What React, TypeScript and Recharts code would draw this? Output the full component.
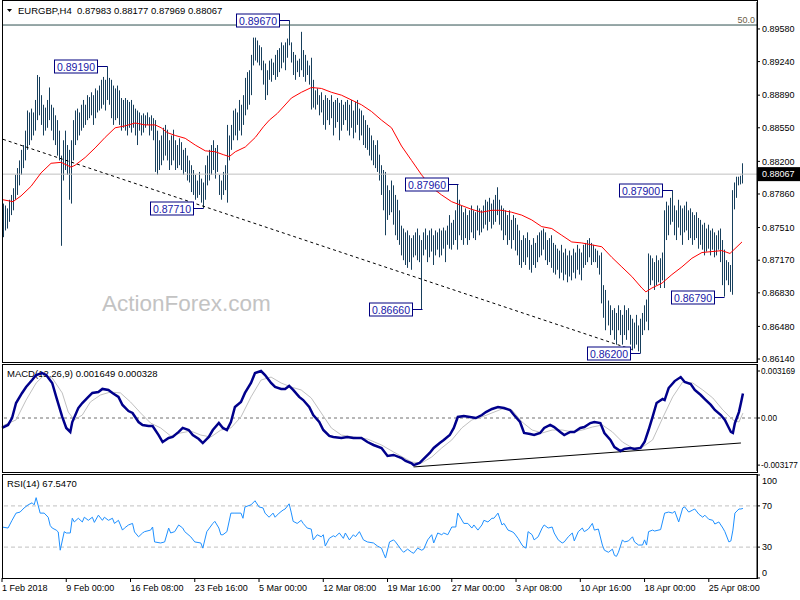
import React from "react";
import { ComposedChart, Bar, Line, XAxis, YAxis, ReferenceLine, ReferenceDot } from "recharts";

const FONT = "'Liberation Sans', Arial, sans-serif";
const BAR_COLOR = "#173f5c";

// H4 bars, prices in pips (x 1e-4)
const highs = [8776,8774,8771,8780,8785,8792,8806,8813,8821,8832,
8837,8852,8873,8871,8875,8871,8884,8910,8908,8889,
8879,8876,8884,8897,8879,8876,8868,8863,8852,8826,
8842,8852,8837,8832,8842,8863,
8873,8875,8871,8879,8884,8879,8889,8887,8892,8889,
8896,8894,8899,8905,8908,8905,8919,8907,8905,8899,
8896,8899,8894,8886,8884,8886,8884,8882,8884,8879,
8875,8873,8871,8868,8870,8868,8871,8866,8868,8865,
8863,8852,8842,8847,8855,8858,8853,8842,8847,8853,
8842,8837,8844,8840,8832,8834,8826,8821,8816,8811,
8806,8800,8809,8802,8798,
8816,8826,8832,8837,8842,8834,8837,8806,8800,8809,
8816,8858,8847,8858,8873,8875,8871,8884,8879,8889,
8907,8913,8915,8931,8949,8949,8946,8941,8939,8925,
8922,8915,8925,8927,8923,8931,8936,8938,8944,8941,
8944,8948,8967,8944,8934,
8931,8925,8927,8955,8936,8931,8925,8920,8928,8905,
8894,8896,8889,8892,8884,8889,8886,8884,8889,8882,
8884,8886,8881,8884,8879,
8882,8884,8879,8884,8873,8882,8884,8875,8873,8868,
8863,8858,8855,8847,8842,8837,8842,8827,8816,8811,
8809,8795,8790,8800,8795,
8785,8780,8769,8753,8750,8746,8748,8743,8740,8743,
8746,8750,8743,8738,8746,8750,8743,8748,8750,8743,
8748,8746,8750,8748,8751,8748,8753,8764,8756,8759,
8769,8796,8780,8774,8767,8771,8764,8769,8774,8769,
8767,8774,8771,8769,8774,8780,8778,8782,8776,8780,
8785,8793,8780,8774,8771,8769,8764,8769,8759,8764,
8761,8754,8748,8738,8743,8740,8746,8738,8733,8740,
8735,8743,8746,8748,8750,8746,8738,8740,8743,8735,
8733,8729,8727,8733,8725,8729,8722,8727,8722,8729,
8725,8733,8729,8725,8733,8735,8738,8740,8735,8733,
8729,8727,8722,8725,8691,
8686,8675,8670,8665,8667,8662,8670,8665,8660,8670,
8665,8667,8660,8656,8652,8660,8649,8656,8662,8670,
8676,8724,8722,8719,8715,8722,8717,8719,8725,8769,
8778,8774,8782,8790,8774,8769,8780,8774,8771,8774,
8778,8769,8771,8767,8764,8767,8761,8759,8754,8756,
8750,8754,8748,8750,8746,8743,8748,8750,8738,8728,
8717,8715,8712,8790,8798,8804,8804,8805,8818];

const lows = [8741,8748,8750,8757,8764,8769,8780,8785,8795,8806,
8813,8821,8832,8837,8842,8847,8852,8863,8868,8858,
8847,8852,8855,8863,8852,8842,8837,8826,8821,8732,
8800,8811,8806,8780,8776,8821,
8837,8842,8847,8852,8855,8858,8863,8865,8868,8858,
8865,8871,8873,8875,8879,8873,8884,8879,8865,8858,
8863,8865,8858,8852,8855,8852,8847,8855,8850,8855,
8847,8837,8852,8847,8850,8855,8858,8847,8852,8842,
8809,8806,8811,8816,8821,8826,8821,8811,8816,8821,
8811,8813,8816,8811,8806,8809,8800,8798,8788,8785,
8780,8782,8785,8777,8771,
8780,8795,8800,8806,8811,8802,8809,8785,8780,8785,
8790,8777,8821,8832,8842,8847,8842,8852,8847,8858,
8868,8874,8879,8889,8920,8925,8923,8920,8915,8900,
8884,8889,8905,8903,8910,8905,8908,8913,8917,8923,
8915,8928,8941,8923,8910,
8905,8913,8908,8915,8908,8903,8910,8900,8874,8876,
8874,8879,8868,8871,8858,8853,8863,8858,8865,8847,
8855,8861,8842,8852,8858,
8863,8852,8847,8855,8844,8850,8858,8842,8847,8837,
8834,8832,8826,8821,8816,8813,8809,8800,8785,8769,
8743,8759,8764,8767,8754,
8743,8738,8733,8722,8717,8712,8709,8715,8707,8720,
8722,8717,8715,8666,8722,8728,8715,8720,8726,8712,
8722,8728,8720,8722,8729,8715,8733,8729,8728,8733,
8738,8728,8743,8738,8733,8740,8733,8738,8746,8740,
8738,8748,8743,8746,8750,8754,8748,8757,8750,8754,
8757,8764,8754,8748,8738,8743,8733,8738,8729,8738,
8727,8722,8712,8709,8715,8712,8720,8707,8704,8712,
8709,8715,8720,8722,8728,8717,8712,8715,8709,8704,
8702,8707,8698,8704,8696,8702,8694,8700,8696,8704,
8698,8707,8702,8696,8709,8712,8715,8720,8712,8715,
8715,8709,8702,8672,8657,
8644,8649,8639,8644,8634,8629,8644,8639,8629,8639,
8634,8644,8629,8623,8625,8629,8622,8620,8639,8644,
8653,8644,8691,8696,8686,8691,8694,8688,8696,8688,
8738,8743,8754,8757,8743,8738,8751,8743,8733,8746,
8748,8738,8740,8733,8738,8740,8729,8733,8728,8722,
8726,8729,8722,8728,8720,8722,8728,8715,8691,8679,
8696,8691,8684,8681,8770,8782,8795,8796,8797];

// moving average [bar, pips]
const maPoints = [[0,8780],[5,8778],[9,8784],[14,8794],[19,8808],[24,8818],[29,8819],[34,8814],[36,8816],[41,8824],[46,8834],[51,8845],[56,8855],[61,8857],[66,8860],[71,8858],[76,8858],[79,8855],[82,8850],[86,8847],[91,8844],[96,8837],[101,8831],[106,8830],[110,8827],[113,8825],[116,8830],[121,8835],[126,8845],[130,8856],[133,8863],[137,8870],[144,8886],[149,8892],[154,8897],[159,8896],[164,8892],[169,8889],[174,8884],[179,8879],[184,8872],[189,8863],[194,8855],[199,8836],[204,8821],[209,8806],[214,8793],[219,8785],[224,8778],[229,8774],[234,8770],[239,8767],[244,8769],[249,8769],[254,8767],[259,8764],[264,8759],[269,8752],[274,8750],[279,8743],[284,8736],[289,8735],[294,8733],[299,8731],[304,8720],[309,8710],[314,8700],[319,8688],[321,8684],[324,8688],[329,8693],[334,8702],[339,8710],[344,8719],[349,8725],[354,8726],[359,8727],[363,8724],[366,8730],[369,8736]];

// MACD main line [bar, value x 1e-5]
const macdPoints = [[0,-67],[3,-47],[5,0],[7,101],[10,169],[12,209],[15,256],[17,290],[20,303],[22,290],[25,236],[27,142],[30,7],[32,-67],[34,-94],[35,-27],[38,67],[40,101],[43,142],[45,169],[48,175],[50,196],[53,189],[55,169],[58,142],[60,88],[63,47],[65,34],[68,-27],[70,-47],[73,-54],[75,-54],[78,-115],[80,-162],[83,-135],[85,-128],[88,-94],[90,-67],[93,-81],[95,-115],[98,-142],[100,-169],[103,-128],[105,-81],[108,-34],[110,-67],[112,-81],[114,-27],[116,74],[119,108],[121,169],[124,236],[126,303],[129,317],[131,290],[134,236],[136,209],[139,196],[141,196],[143,216],[145,189],[148,142],[150,121],[153,74],[155,20],[158,-27],[160,-81],[163,-121],[165,-128],[169,-135],[172,-128],[175,-135],[179,-135],[182,-162],[185,-182],[189,-202],[192,-256],[195,-249],[199,-270],[201,-290],[204,-305],[205,-318],[208,-303],[210,-276],[213,-236],[215,-202],[218,-169],[220,-148],[223,-115],[225,-67],[227,7],[230,13],[233,7],[236,0],[239,20],[241,40],[244,61],[247,74],[250,67],[253,54],[255,20],[258,-27],[260,-101],[263,-108],[265,-115],[268,-101],[270,-67],[273,-47],[275,-61],[278,-94],[280,-115],[283,-94],[285,-94],[288,-67],[290,-61],[293,-34],[295,-27],[298,-34],[300,-101],[303,-148],[305,-196],[308,-223],[310,-209],[313,-202],[315,-209],[318,-202],[320,-162],[322,-81],[324,7],[326,101],[329,128],[330,121],[332,202],[335,249],[338,276],[340,243],[343,229],[345,189],[348,155],[350,128],[353,88],[355,54],[358,20],[360,-13],[363,-94],[364,-101],[365,-34],[367,40],[368,101],[369,165]];

// MACD signal [bar, value x 1e-5]
const signalPoints = [[0,-54],[7,-13],[12,121],[17,236],[21,290],[25,270],[30,169],[33,40],[36,-13],[40,20],[44,108],[49,155],[54,175],[59,169],[64,108],[69,34],[74,-34],[79,-67],[84,-121],[89,-101],[94,-88],[99,-115],[104,-128],[109,-81],[114,-67],[119,7],[124,142],[129,256],[134,276],[139,236],[144,209],[149,189],[154,135],[159,34],[164,-67],[169,-115],[175,-128],[182,-142],[189,-182],[195,-229],[204,-297],[209,-303],[214,-263],[219,-202],[224,-148],[229,-67],[234,-13],[239,7],[244,34],[249,61],[254,54],[259,-27],[264,-81],[269,-101],[274,-81],[279,-81],[284,-94],[289,-81],[294,-61],[299,-47],[304,-94],[309,-162],[314,-202],[319,-196],[324,-148],[329,0],[334,142],[339,243],[344,236],[349,189],[354,135],[359,54],[364,-13],[367,-27],[369,33]];

// RSI(14) [bar, value]
const rsiPoints = [[0,49.5],[3,48.5],[5,56],[7,63],[9,64],[11,68],[13,71],[15,73],[16,71],[17,78],[19,63],[21,63],[23,59],[24,51],[25,48.5],[27,46.5],[28,44.7],[29,27],[31,45],[32,43.7],[34,43.7],[35,58],[36,54.4],[38,58],[40,54.4],[41,59],[43,56],[45,59],[46,54],[48,61],[50,56],[51,59],[53,56],[55,58],[56,53],[58,56],[60,46.5],[61,48.5],[63,51.5],[65,53],[66,44.7],[68,40],[70,43.7],[71,45],[74,46.5],[75,49.5],[76,35],[79,34],[81,35],[83,48.5],[84,43.7],[86,45],[88,51.5],[90,48.5],[91,45],[94,40],[96,35],[99,34],[100,29],[102,45],[105,53],[106,55],[108,48.5],[109,42],[110,42],[112,45],[114,63],[116,63],[119,63],[120,58],[121,69],[124,71],[126,75],[128,69],[130,68],[131,63],[133,59],[135,63],[136,59],[138,63],[140,66],[141,67],[143,72],[144,64],[145,55],[147,53],[149,56],[150,53],[152,48.5],[154,47.5],[155,37],[157,42],[159,40],[160,42],[161,31],[163,38.5],[165,41],[166,40],[168,43.7],[170,38.5],[171,43.7],[173,37],[175,42],[176,40],[178,45],[180,37],[182,35],[185,34],[187,31],[189,29],[190,24],[191,19.4],[193,35],[195,37],[196,35],[199,27],[200,25],[202,28],[204,25],[205,24],[207,29],[209,27],[210,28],[212,37],[214,42],[215,34],[217,43.7],[219,42],[220,43.7],[222,42],[224,49.5],[226,49.5],[227,63],[230,53],[232,53],[234,48.5],[235,51.5],[237,46.5],[239,51.5],[240,56],[242,54.4],[244,58],[245,58],[247,63],[249,51.5],[250,53],[252,46.5],[254,45],[255,43.7],[257,38.5],[259,32],[260,30],[261,29],[262,45],[264,42],[265,37],[267,40],[269,48.5],[270,51.5],[272,48.5],[274,49.5],[275,43.7],[277,37],[279,34],[280,35],[282,40],[284,43.7],[285,36],[287,45],[289,48.5],[290,45],[292,47.5],[294,53],[295,46.5],[297,47.5],[299,32],[300,27],[302,25],[304,28],[305,22],[306,21],[307,25],[309,37],[310,35],[312,36],[314,40],[315,35],[317,32],[319,32],[320,37],[321,32],[322,45],[324,46.5],[325,45.6],[328,47],[330,63],[332,64],[334,63],[335,65],[337,54.4],[339,68],[340,69],[342,64],[344,66],[345,67],[347,62],[349,59],[350,61],[352,57],[354,56],[355,52.4],[357,54.4],[359,48.5],[360,45],[362,35],[363,36],[364,46.5],[365,63],[367,67],[368,67],[369,67.55]];

const priceTicks = [0.8958, 0.8924, 0.8889, 0.8855, 0.882, 0.8786, 0.8751, 0.8717, 0.8683, 0.8648, 0.8614];
const lastPrice = 0.88067;
const fibLevel = 0.89621;
const macdTicks = [0.003169, 0, -0.003177];
const macdTickText = ["0.003169", "0.00", "-0.003177"];
const rsiTicks = [100, 70, 30, 0];
const dateIdx = [0, 32, 64, 96, 128, 160, 192, 224, 256, 288, 320, 352];
const dateLabels = ["1 Feb 2018", "9 Feb 00:00", "16 Feb 08:00", "23 Feb 16:00", "5 Mar 00:00", "12 Mar 08:00", "19 Mar 16:00", "27 Mar 00:00", "3 Apr 08:00", "10 Apr 16:00", "18 Apr 00:00", "25 Apr 08:00"];
const annotations = [
  { i: 52, price: 0.8919, text: "0.89190" },
  { i: 143, price: 0.8967, text: "0.89670" },
  { i: 100, price: 0.8771, text: "0.87710" },
  { i: 227, price: 0.8796, text: "0.87960" },
  { i: 209, price: 0.8666, text: "0.86660" },
  { i: 318, price: 0.862, text: "0.86200" },
  { i: 334, price: 0.879, text: "0.87900" },
  { i: 360, price: 0.8679, text: "0.86790" },
];
const trendMain = [{ x: 0, y: 0.8843 }, { x: 314, y: 0.8624 }];
const trendMacd = [{ x: 205, y: -0.0033 }, { x: 368, y: -0.001685 }];

const N = 377;
function sparse(points: number[][], scale: number) {
  const arr: (number | null)[] = new Array(N).fill(null);
  points.forEach(([i, v]) => { arr[i] = v / scale; });
  return arr;
}
const maArr = sparse(maPoints, 1e4);
const macdArr = sparse(macdPoints, 1e5);
const sigArr = sparse(signalPoints, 1e5);
const rsiArr = sparse(rsiPoints, 1);
const rows = Array.from({ length: N }, (_, i) => ({
  i,
  range: i < highs.length ? [lows[i] / 1e4, highs[i] / 1e4] : null,
  ma: maArr[i],
  macd: macdArr[i],
  signal: sigArr[i],
  rsi: rsiArr[i],
}));

const OhlcShape = (p: any) => {
  const { x, y, width, height } = p;
  if (x == null || y == null || height == null || isNaN(height)) return null;
  const cx = Math.round(x + width / 2 - 0.5) + 0.5;
  const top = Math.min(y, y + height);
  const bot = Math.max(y, y + height);
  return <line x1={cx} x2={cx} y1={top} y2={Math.max(bot, top + 1)} stroke={BAR_COLOR} strokeWidth={1} />;
};

const Annot = (p: any) => {
  const { cx, cy, text } = p;
  if (cx == null || cy == null) return null;
  const yy = Math.round(cy) + 0.5;
  const right = Math.round(cx) - 9.5;
  const w = 43, h = 13;
  return (
    <g>
      <line x1={right} y1={yy} x2={Math.round(cx) + 0.5} y2={yy} stroke="#000080" strokeWidth={1} />
      <rect x={right - w} y={yy - 6.5} width={w} height={h} fill="#fff" stroke="#000080" strokeWidth={1} />
      <text x={right - w / 2} y={yy} dy={4} textAnchor="middle" fontSize={10.5} fill="#1818a8" fontFamily={FONT}>{text}</text>
    </g>
  );
};

const PriceTick = (p: any) => {
  const { x, y, payload } = p;
  const v = payload.value;
  if (Math.abs(v - lastPrice) < 1e-7) {
    return (
      <g>
        <rect x={x - 4} y={y - 7} width={44} height={14} fill="#000" />
        <text x={x} y={y} dy={3.3} fontSize={9} fill="#fff" fontFamily={FONT}>{v.toFixed(5)}</text>
      </g>
    );
  }
  return <text x={x} y={y} dy={3.3} fontSize={9} fill="#000" fontFamily={FONT}>{v.toFixed(5)}</text>;
};

const MacdTick = (p: any) => {
  const { x, y, payload } = p;
  const k = macdTicks.indexOf(payload.value);
  return <text x={x - 1} y={y} dy={3.2} fontSize={8.2} fill="#000" fontFamily={FONT}>{macdTickText[k]}</text>;
};

const RsiTick = (p: any) => {
  const { x, y, payload } = p;
  const v = payload.value;
  const shift = v === 100 ? 6 : v === 0 ? -5 : 0;
  return <text x={x} y={y + shift} dy={3.3} fontSize={9} fill="#000" fontFamily={FONT}>{v}</text>;
};

const DateTick = (p: any) => {
  const { x, y, payload } = p;
  const k = dateIdx.indexOf(payload.value);
  return <text x={x} y={y} dy={7} fontSize={9} fill="#000" fontFamily={FONT} textAnchor="start">{dateLabels[k]}</text>;
};

const frame = (top: number, height: number): React.CSSProperties => ({
  position: "absolute", left: 2, top, width: 756, height, border: "1px solid #000", boxSizing: "border-box", pointerEvents: "none",
});

export default function App() {
  return (
    <div style={{ position: "absolute", left: 0, top: 0, width: 800, height: 600, background: "#fff", overflow: "hidden", fontFamily: FONT }}>
      <svg width={800} height={600} style={{ position: "absolute", left: 0, top: 0 }}>
        <text x={102} y={311} fontSize={22.5} fill="#c3c3c3" fontFamily={FONT}>ActionForex.com</text>
        <polygon points="7,9 12,9 9.5,12" fill="#000" />
        <text x={18} y={14} fontSize={9.5} fill="#000" fontFamily={FONT}>EURGBP,H4</text>
        <text x={77} y={14} fontSize={9.5} fill="#000" fontFamily={FONT}>0.87983 0.88177 0.87969 0.88067</text>
        <text x={755} y={23} fontSize={9} fill="#6b5e45" fontFamily={FONT} textAnchor="end">50.0</text>
        <text x={7} y={377} fontSize={9.5} fill="#000" fontFamily={FONT}>MACD(12,26,9) 0.001649 0.000328</text>
        <text x={7} y={487} fontSize={9.5} fill="#000" fontFamily={FONT}>RSI(14) 67.5470</text>
      </svg>

      <div style={{ position: "absolute", left: 0, top: 0 }}>
        <ComposedChart width={800} height={364} data={rows} margin={{ top: 2, right: 0, bottom: 2, left: 2 }}>
          <XAxis dataKey="i" hide />
          <YAxis orientation="right" width={43} domain={[0.86109, 0.89861]} allowDataOverflow type="number"
            ticks={[...priceTicks, lastPrice]} interval={0} tick={<PriceTick />} tickSize={3} tickMargin={2}
            axisLine={{ stroke: "#000" }} tickLine={{ stroke: "#000" }} />
          <ReferenceLine y={fibLevel} stroke="#2f4f4f" strokeWidth={1} />
          <ReferenceLine y={lastPrice} stroke="#c0c0c0" strokeWidth={1} />
          <ReferenceLine segment={trendMain} stroke="#000" strokeDasharray="3 3" strokeWidth={1} />
          <Bar dataKey="range" shape={<OhlcShape />} isAnimationActive={false} />
          <Line dataKey="ma" stroke="#ff0000" strokeWidth={1} dot={false} activeDot={false} connectNulls type="linear" isAnimationActive={false} />
          {annotations.map((a) => (
            <ReferenceDot key={a.text} x={a.i} y={a.price} r={0} shape={(p: any) => <Annot {...p} text={a.text} />} />
          ))}
        </ComposedChart>
      </div>

      <div style={{ position: "absolute", left: 0, top: 364 }}>
        <ComposedChart width={800} height={108} data={rows} margin={{ top: 1, right: 0, bottom: 1, left: 2 }}>
          <XAxis dataKey="i" hide />
          <YAxis orientation="right" width={43} domain={[-0.003574, 0.003574]} allowDataOverflow type="number"
            ticks={macdTicks} interval={0} tick={<MacdTick />} tickSize={3} tickMargin={2}
            axisLine={{ stroke: "#000" }} tickLine={{ stroke: "#000" }} />
          <ReferenceLine y={0} stroke="#707070" strokeDasharray="3 3" strokeWidth={1} />
          <ReferenceLine segment={trendMacd} stroke="#000" strokeWidth={1} />
          <Line dataKey="signal" stroke="#c0c0c0" strokeWidth={1} dot={false} activeDot={false} connectNulls type="linear" isAnimationActive={false} />
          <Line dataKey="macd" stroke="#00008b" strokeWidth={2.5} dot={false} activeDot={false} connectNulls type="linear" isAnimationActive={false} />
        </ComposedChart>
      </div>

      <div style={{ position: "absolute", left: 0, top: 474 }}>
        <ComposedChart width={800} height={126} data={rows} margin={{ top: 1, right: 0, bottom: 0, left: 2 }}>
          <XAxis dataKey="i" ticks={dateIdx} interval={0} tick={<DateTick />} tickSize={4} tickMargin={2}
            axisLine={false} tickLine={{ stroke: "#000" }} height={22} />
          <YAxis orientation="right" width={43} domain={[0, 100]} allowDataOverflow type="number"
            ticks={rsiTicks} interval={0} tick={<RsiTick />} tickSize={3} tickMargin={2}
            axisLine={{ stroke: "#000" }} tickLine={{ stroke: "#000" }} />
          <ReferenceLine y={70} stroke="#c0c0c0" strokeDasharray="4 3" strokeWidth={1} />
          <ReferenceLine y={30} stroke="#c0c0c0" strokeDasharray="4 3" strokeWidth={1} />
          <Line dataKey="rsi" stroke="#1e90ff" strokeWidth={1} dot={false} activeDot={false} connectNulls type="linear" isAnimationActive={false} />
        </ComposedChart>
      </div>

      <div style={frame(0, 363)} />
      <div style={frame(364, 109)} />
      <div style={frame(474, 105)} />
    </div>
  );
}
